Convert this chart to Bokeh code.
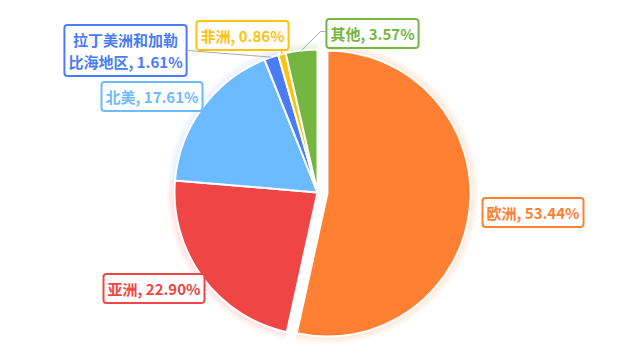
import math
from bokeh.plotting import figure
from bokeh.models import Range1d, Label
from bokeh.embed import file_html
from bokeh.resources import INLINE

# ---- data ----
categories = ["欧洲", "亚洲", "北美", "拉丁美洲和加勒比海地区", "非洲", "其他"]
shares = [53.44, 22.90, 17.61, 1.61, 0.86, 3.57]

# ---- style / layout ----
colors = ["#FF7F33", "#F04545", "#6CBAFF", "#4B7CF8", "#FFC20E", "#74B63F"]
exploded = [True, False, False, False, False, False]
# label anchor (page px), align
label_layout = [
    (482, 212, "left"),
    (204, 288, "right"),
    (202, 96, "right"),
    (125, 50, "center"),
    (242, 35, "center"),
    (372, 33, "center"),
]
leader_ends = [None, None, None, [(250, 55), (187, 50)], [(281, 47)], [(320, 31), (325, 31)]]

W, H = 618, 344
def px(x):
    return x
def py(y):
    return H - y

cx, cy, R = px(317), py(192), 143
OFF = 10

p = figure(width=W, height=H, x_range=Range1d(0, W), y_range=Range1d(0, H),
           output_backend="svg", toolbar_location=None, min_border=0,
           x_axis_type=None, y_axis_type=None)
p.grid.visible = False
p.outline_line_color = None
p.background_fill_color = "white"

total = sum(shares)
cum = 0.0
geo = []
for i, v in enumerate(shares):
    a0 = cum / total * 2 * math.pi
    cum += v
    a1 = cum / total * 2 * math.pi
    mid = math.pi / 2 - (a0 + a1) / 2
    ox = OFF * math.cos(mid) if exploded[i] else 0.0
    oy = OFF * math.sin(mid) if exploded[i] else 0.0
    geo.append((math.pi / 2 - a1, math.pi / 2 - a0, mid, cx + ox, cy + oy))

# glow
for i, (s, e, mid, x, y) in enumerate(geo):
    for k in range(1, 9):
        p.wedge(x=[x], y=[y], radius=R + k, start_angle=[s], end_angle=[e],
                fill_color=colors[i], fill_alpha=0.022, line_color=None)

# slices
for i, (s, e, mid, x, y) in enumerate(geo):
    p.wedge(x=[x], y=[y], radius=R, start_angle=[s], end_angle=[e],
            fill_color=colors[i], line_color="white", line_width=2)

# leader lines
for i, (s, e, mid, x, y) in enumerate(geo):
    if leader_ends[i] is None:
        continue
    xs = [x + R * math.cos(mid)] + [px(a) for a, b in leader_ends[i]]
    ys = [y + R * math.sin(mid)] + [py(b) for a, b in leader_ends[i]]
    p.line(xs, ys, line_color="#AAAAAA", line_width=1)

# labels
for i, name in enumerate(categories):
    nm = name if len(name) <= 7 else name[:7] + "\n" + name[7:]
    txt = f"{nm}, {shares[i]:.2f}%"
    lx, ly, al = label_layout[i]
    p.add_layout(Label(x=px(lx), y=py(ly), text=txt, text_align=al, text_baseline="middle",
                       text_font="Noto Sans CJK SC", text_font_style="bold", text_font_size="15px",
                       text_color=colors[i], text_line_height=1.05,
                       background_fill_color="white", border_line_color=colors[i],
                       border_line_width=2, padding=4, border_radius=3))

open("out.html", "w").write(file_html(p, INLINE))
